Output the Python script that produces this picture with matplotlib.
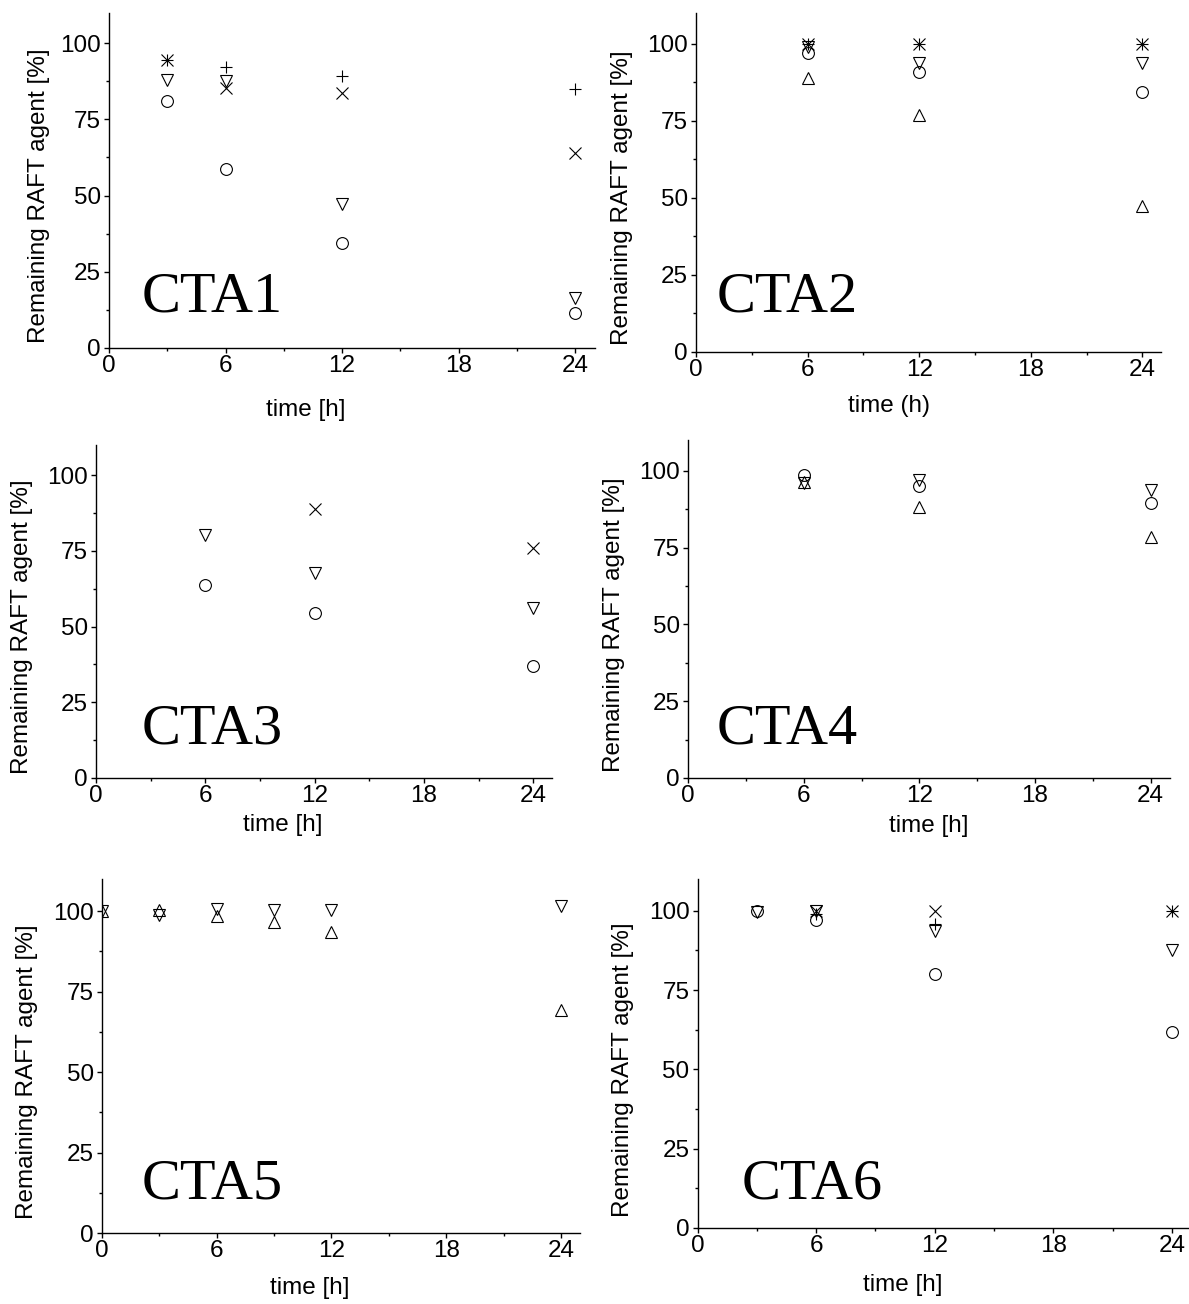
import numpy as np
import matplotlib
matplotlib.use("Agg")
from matplotlib import pyplot as plt
from matplotlib.ticker import MultipleLocator

plt.rcParams['font.family'] = ['Liberation Sans', 'DejaVu Sans']

# ---- data (time in h, remaining RAFT agent in %) ----
# CTA1
cta1_t = [3, 6, 12, 24]
cta1_plus = [94.4, 92.2, 89.3, 84.8]
cta1_cross = [94.4, 85.1, 83.5, 64.0]
cta1_down = [87.9, 87.5, 47.1, 16.3]
cta1_circle = [81.1, 58.6, 34.5, 11.4]

# CTA2
cta2_t = [6, 12, 24]
cta2_plus = [100.0, 100.0, 100.0]
cta2_cross = [100.0, 100.0, 100.0]
cta2_down = [99.0, 93.7, 93.7]
cta2_circle = [97.0, 91.0, 84.5]
cta2_up = [88.8, 76.9, 47.4]

# CTA3
cta3_t = [6, 12, 24]
cta3_cross_t = [12, 24]
cta3_cross = [88.8, 76.1]
cta3_down = [80.2, 67.8, 56.2]
cta3_circle = [63.9, 54.4, 37.0]

# CTA4
cta4_t = [6, 12, 24]
cta4_down = [96.0, 97.0, 93.8]
cta4_circle = [98.7, 95.1, 89.5]
cta4_up = [96.3, 88.2, 78.3]

# CTA5
cta5_t = [0, 3, 6, 9, 12, 24]
cta5_down = [100.0, 98.8, 100.6, 100.4, 100.5, 101.5]
cta5_up = [100.0, 100.5, 98.6, 96.6, 93.5, 69.3]

# CTA6
cta6_t = [3, 6, 12, 24]
cta6_plus_t = [6, 12, 24]
cta6_plus = [99.0, 95.9, 100.0]
cta6_cross_t = [6, 12, 24]
cta6_cross = [100.0, 100.0, 100.0]
cta6_down = [99.7, 99.8, 93.5, 87.5]
cta6_circle = [100.0, 97.0, 80.0, 61.9]

W, H = 1189, 1304
fig = plt.figure(figsize=(W / 100, H / 100), dpi=100)
FS = 17.5


def make_axes(left, right, top, bottom):
    return fig.add_axes([left / W, 1 - bottom / H, (right - left) / W, (bottom - top) / H])


def style(ax, xmax, xlabel, xl_pos, xl_off, yl_off, name, name_xy):
    ax.set_xlim(0, xmax)
    ax.set_ylim(0, 110)
    for s in ['top', 'right']:
        ax.spines[s].set_visible(False)
    for s in ['left', 'bottom']:
        ax.spines[s].set_linewidth(1.0)
    ax.xaxis.set_major_locator(MultipleLocator(6))
    ax.xaxis.set_minor_locator(MultipleLocator(3))
    ax.yaxis.set_major_locator(MultipleLocator(25))
    ax.yaxis.set_minor_locator(MultipleLocator(12.5))
    ax.tick_params(which='major', direction='out', length=3.8, width=1.0,
                   labelsize=FS)
    ax.tick_params(axis='x', which='major', pad=1.0)
    ax.tick_params(axis='y', which='major', pad=2.0)
    ax.tick_params(which='minor', direction='out', length=2.2, width=1.0)
    bb = ax.get_position()
    w_px = bb.width * W
    h_px = bb.height * H
    ax.set_xlabel(xlabel, fontsize=FS)
    ax.xaxis.set_label_coords(xl_pos, -xl_off / h_px)
    ax.set_ylabel('Remaining RAFT agent [%]', fontsize=FS)
    ax.yaxis.set_label_coords(-yl_off / w_px, 50 / 110)
    ax.xaxis.label.set_va('center')
    ax.yaxis.label.set_va('center')
    ax.text(name_xy[0], name_xy[1], name, family='Liberation Serif',
            fontsize=42, va='baseline', ha='left')


mk = dict(linestyle='none', color='black', markerfacecolor='none',
          markeredgecolor='black', markersize=8.5, markeredgewidth=0.8)

# CTA1
ax1 = make_axes(109, 594.5, 12.5, 348)
ax1.plot(cta1_t, cta1_plus, marker='+', **mk)
ax1.plot(cta1_t, cta1_cross, marker='x', **mk)
ax1.plot(cta1_t, cta1_down, marker='v', **mk)
ax1.plot(cta1_t, cta1_circle, marker='o', **mk)
style(ax1, 25, 'time [h]', 0.405, 62, 70, 'CTA1', (1.68, 11.9))

# CTA2
ax2 = make_axes(696, 1161, 13, 352)
ax2.plot(cta2_t, cta2_plus, marker='+', **mk)
ax2.plot(cta2_t, cta2_cross, marker='x', **mk)
ax2.plot(cta2_t, cta2_down, marker='v', **mk)
ax2.plot(cta2_t, cta2_circle, marker='o', **mk)
ax2.plot(cta2_t, cta2_up, marker='^', **mk)
style(ax2, 25, 'time (h)', 0.415, 54, 74, 'CTA2', (1.11, 13.1))

# CTA3
ax3 = make_axes(96, 551.5, 445, 778)
ax3.plot(cta3_cross_t, cta3_cross, marker='x', **mk)
ax3.plot(cta3_t, cta3_down, marker='v', **mk)
ax3.plot(cta3_t, cta3_circle, marker='o', **mk)
style(ax3, 25, 'time [h]', 0.409, 47, 74, 'CTA3', (2.5, 11.5))

# CTA4
ax4 = make_axes(688, 1170, 440, 778)
ax4.plot(cta4_t, cta4_down, marker='v', **mk)
ax4.plot(cta4_t, cta4_circle, marker='o', **mk)
ax4.plot(cta4_t, cta4_up, marker='^', **mk)
style(ax4, 25, 'time [h]', 0.5, 48, 74, 'CTA4', (1.49, 11.3))

# CTA5
ax5 = make_axes(102, 580, 879, 1233)
ax5.plot(cta5_t, cta5_down, marker='v', **mk)
ax5.plot(cta5_t, cta5_up, marker='^', **mk)
style(ax5, 25, 'time [h]', 0.435, 55, 75, 'CTA5', (2.08, 10.8))

# CTA6
ax6 = make_axes(697.5, 1189, 879, 1228)
ax6.plot(cta6_plus_t, cta6_plus, marker='+', **mk)
ax6.plot(cta6_cross_t, cta6_cross, marker='x', **mk)
ax6.plot(cta6_t, cta6_down, marker='v', **mk)
ax6.plot(cta6_t, cta6_circle, marker='o', **mk)
style(ax6, 24.86, 'time [h]', 0.417, 57, 75, 'CTA6', (2.24, 9.4))

fig.savefig('out.png', dpi=100)
